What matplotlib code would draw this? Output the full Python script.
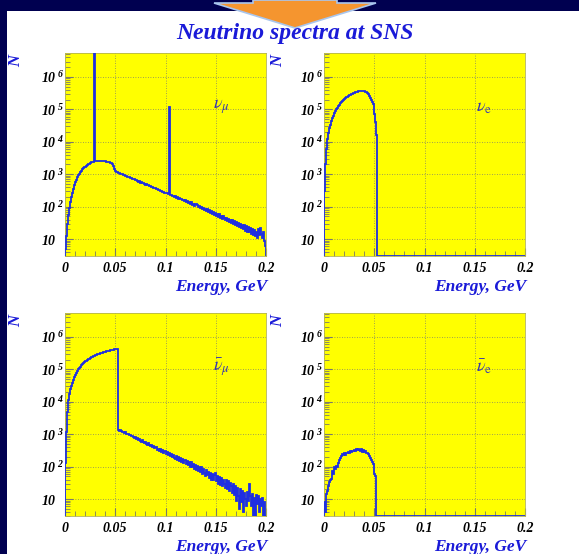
import numpy as np
import matplotlib
matplotlib.use("Agg")
import matplotlib.pyplot as plt
from matplotlib.patches import Rectangle, Polygon
from matplotlib.ticker import FixedLocator, MultipleLocator, LogLocator, NullFormatter

# ---------------- data ----------------
title = "Neutrino spectra at SNS"
xlabel = "Energy, GeV"
ylabel = "N"
bin_width_gev = 0.001
n_bins = 200
xtick_values = [0, 0.05, 0.1, 0.15, 0.2]
xtick_labels = ["0", "0.05", "0.1", "0.15", "0.2"]
ytick_values = [10, 1e2, 1e3, 1e4, 1e5, 1e6]
ytick_labels = [r"$10$", r"$10^{\;2}$", r"$10^{\;3}$", r"$10^{\;4}$", r"$10^{\;5}$", r"$10^{\;6}$"]
panel_labels = [r"$\nu_{\mu}$", r"$\nu_{\mathrm{e}}$", r"$\bar{\nu}_{\mu}$", r"$\bar{\nu}_{\mathrm{e}}$"]

# nu_mu counts per 1 MeV bin (0 .. 200 MeV)
nu_mu = [
    5, 12, 30, 55, 90, 140, 200, 270, 360, 460,
    570, 680, 800, 920, 1040, 1160, 1280, 1400, 1510, 1620,
    1730, 1840, 1940, 2040, 2140, 2230, 2310, 2380, 2440, 2.0e7,
    2500, 2520, 2540, 2550, 2560, 2560, 2560, 2550, 2540, 2520,
    2500, 2470, 2430, 2400, 2360, 2300, 2200, 2020, 1800, 1500,
    1300, 1180, 1135, 1110, 1080, 1035, 1015, 985, 940, 925,
    900, 860, 850, 810, 800, 760, 740, 735, 690, 690,
    650, 650, 615, 595, 600, 555, 560, 525, 530, 495,
    480, 485, 450, 455, 420, 430, 395, 405, 375, 365,
    370, 340, 345, 320, 325, 300, 305, 280, 290, 265,
    270, 255, 250, 120000, 225, 235, 212, 220, 200, 210,
    190, 195, 178, 185, 168, 175, 158, 165, 150, 156,
    140, 150, 132, 138, 125, 135, 115, 125, 108, 118,
    125, 112, 95, 102, 88, 96, 82, 92, 78, 86,
    74, 82, 68, 78, 62, 72, 60, 70, 55, 64,
    52, 60, 48, 58, 46, 52, 42, 50, 44, 38,
    46, 36, 42, 34, 40, 31, 38, 30, 35, 27,
    34, 26, 32, 24, 30, 22, 28, 21, 27, 18,
    26, 17, 24, 16, 22, 14, 20, 13, 19, 12,
    17, 11, 20, 13, 22, 14, 11, 17, 9, 6,
]

# nu_e counts per 1 MeV bin (zero above 53 MeV)
nu_e = [
    300, 2100, 6000, 12000, 19000, 26000, 34000, 43000, 53000, 64000,
    76000, 88000, 101000, 114000, 127000, 140000, 154000, 168000, 182000, 196000,
    210000, 224000, 237000, 250000, 263000, 275000, 287000, 298000, 309000, 319000,
    329000, 338000, 346000, 353000, 359000, 364000, 367000, 369000, 369000, 367000,
    362000, 354000, 343000, 320000, 295000, 255000, 225000, 195000, 175000, 150000,
    70000, 40000, 16000,
]

# anti nu_mu counts per 1 MeV bin
anti_nu_mu = [
    130, 1200, 5000, 11000, 17000, 24000, 31000, 39000, 48000, 57000,
    67000, 78000, 89000, 100000, 111000, 122000, 133000, 144000, 155000, 166000,
    176000, 186000, 196000, 206000, 216000, 226000, 235000, 244000, 253000, 262000,
    271000, 280000, 289000, 297000, 305000, 313000, 321000, 329000, 337000, 344000,
    351000, 358000, 365000, 372000, 379000, 386000, 393000, 400000, 407000, 414000,
    421000, 428000, 434000, 1380, 1300, 1340, 1250, 1210, 1190, 1120,
    1140, 1050, 1010, 1000, 930, 960, 860, 880, 820, 760,
    800, 720, 740, 660, 700, 620, 580, 650, 560, 540,
    590, 500, 470, 520, 480, 430, 470, 400, 440, 370,
    410, 390, 330, 360, 310, 350, 290, 320, 270, 300,
    250, 290, 235, 260, 215, 250, 195, 235, 190, 170,
    210, 165, 195, 150, 185, 140, 170, 130, 160, 155,
    120, 150, 110, 140, 100, 135, 95, 120, 85, 115,
    80, 105, 75, 100, 70, 95, 60, 85, 65, 50,
    80, 55, 70, 45, 65, 40, 60, 38, 55, 62,
    35, 50, 30, 48, 28, 45, 25, 40, 30, 22,
    38, 20, 35, 18, 32, 26, 15, 30, 13, 25,
    9, 22, 12, 5, 20, 8, 18, 4, 15, 10,
    6, 16, 9, 30, 12, 6, 14, 3, 11, 2,
    13, 7, 12, 4, 10, 6, 11, 3, 8, 2,
]

# anti nu_e counts per 1 MeV bin (zero above 52 MeV)
anti_nu_e = [
    8, 4, 14, 18, 26, 34, 38, 42, 75, 60,
    100, 85, 105, 95, 130, 160, 190, 210, 240, 230,
    260, 235, 270, 255, 290, 270, 300, 285, 310, 295,
    330, 305, 340, 320, 360, 330, 300, 345, 290, 330,
    280, 300, 260, 270, 240, 210, 190, 160, 140, 120,
    60, 50,
]

spectra = [nu_mu, nu_e, anti_nu_mu, anti_nu_e]

# ---------------- style ----------------
W, H = 579, 554
navy = "#000050"
yellow = "#ffff00"
line_blue = "#1f2fe0"
text_blue = "#1a1ad8"
label_blue = "#3636b0"
serif = "Liberation Serif"

plt.rcParams["mathtext.fontset"] = "custom"
plt.rcParams["mathtext.rm"] = "Liberation Serif:bold:italic"
plt.rcParams["mathtext.it"] = "Liberation Serif:bold:italic"
plt.rcParams["mathtext.bf"] = "Liberation Serif:bold:italic"


def fx(x):
    return x / W


def fy(y):
    return 1 - y / H


fig = plt.figure(figsize=(W / 100, H / 100), dpi=100)
fig.patch.set_facecolor(navy)
fig.add_artist(Rectangle((fx(7), 0), 1 - fx(7), fy(11), transform=fig.transFigure,
                         facecolor="white", edgecolor="none", zorder=0))

# orange arrow at the top
arrow_px = [(253, 0), (253, 3), (214, 3), (295, 28), (376, 3), (337, 3), (337, 0)]
fig.add_artist(Polygon([(fx(a), fy(b)) for a, b in arrow_px], closed=True,
                       transform=fig.transFigure, facecolor="#f5952f",
                       edgecolor="#a9c6ee", linewidth=1.2, zorder=1))

fig.text(fx(295), fy(33), title, ha="center", va="center", fontsize=17,
         family=serif, weight="bold", style="italic", color=text_blue, zorder=3)

panels_px = [(65, 53), (324, 53), (65, 313), (324, 313)]
pw, ph = 201, 203
edges = np.arange(n_bins + 1) * bin_width_gev
ymin, ymax = 3, 5.5e6

for k, (px0, py0) in enumerate(panels_px):
    ax = fig.add_axes([fx(px0), fy(py0 + ph), pw / W, ph / H])
    ax.set_facecolor(yellow)
    vals = np.zeros(n_bins)
    vals[:len(spectra[k])] = spectra[k]
    ax.stairs(np.clip(vals, ymin, None), edges, baseline=ymin, color=line_blue,
              linewidth=1.3, zorder=3)
    ax.set_yscale("log")
    ax.set_xlim(0, 0.2)
    ax.set_ylim(ymin, ymax)
    ax.yaxis.set_major_locator(FixedLocator(ytick_values))
    ax.yaxis.set_minor_locator(LogLocator(base=10, subs=range(2, 10), numticks=20))
    ax.yaxis.set_minor_formatter(NullFormatter())
    ax.set_yticklabels(ytick_labels, fontsize=10, color="black", ha="left")
    ax.xaxis.set_major_locator(FixedLocator(xtick_values))
    ax.xaxis.set_minor_locator(MultipleLocator(0.01))
    ax.set_xticklabels(xtick_labels, fontsize=10, family=serif, weight="bold",
                       style="italic", color="black")
    ax.tick_params(axis="y", which="both", direction="in", left=True, right=False,
                   color="#7a7a6a", pad=17.5)
    ax.tick_params(axis="x", which="both", direction="in", bottom=True, top=False,
                   color="#7a7a6a", pad=4)
    ax.tick_params(which="major", length=6, width=0.8)
    ax.tick_params(which="minor", length=3.5, width=0.6)
    ax.grid(True, which="major", color="#80806a", linestyle=(0, (1, 2)), linewidth=0.6)
    for sp in ax.spines.values():
        sp.set_color("#b4b450")
        sp.set_linewidth(0.6)
    ax.text(0.1475 if k % 2 == 0 else 0.151, 1.2e5, panel_labels[k], fontsize=13,
            color=label_blue, math_fontfamily="stix", ha="left", va="center", zorder=4)
    # axis titles
    fig.text(fx(px0 + 202), fy(py0 + 234), xlabel, ha="right", va="center", fontsize=12.5,
             family=serif, weight="bold", style="italic", color=text_blue)
    fig.text(fx(px0 - 49 if k % 2 == 0 else px0 - 46), fy(py0 + 8), ylabel, rotation=90,
             ha="center", va="center", fontsize=12, family=serif, weight="bold",
             style="italic", color=text_blue)

fig.savefig("out.png", dpi=100, facecolor=navy)
